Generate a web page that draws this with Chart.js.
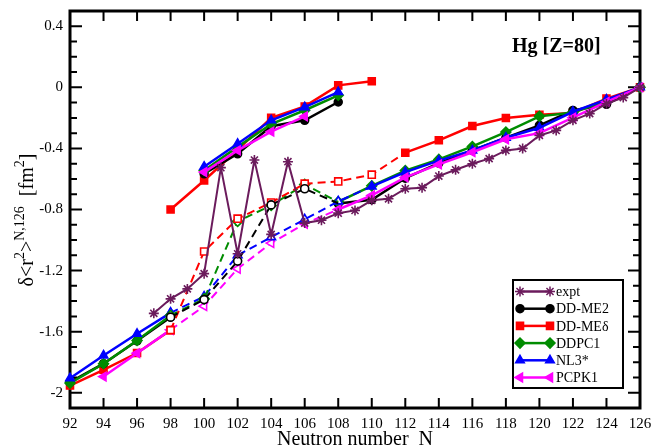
<!DOCTYPE html>
<html>
<head>
<meta charset="utf-8">
<script src="https://cdn.jsdelivr.net/npm/chart.js@4.4.1/dist/chart.umd.min.js"></script>
<style>
  html, body { margin: 0; padding: 0; background: #fff; }
  canvas { display: block; }
</style>
</head>
<body>
<canvas id="chart" width="652" height="447"></canvas>
<script>
// even neutron numbers used by all model calculations
const evenN = [92, 94, 96, 98, 100, 102, 104, 106, 108, 110, 112, 114, 116, 118, 120, 122, 124, 126]
const xTicks = evenN
const yTicks = [-2, -1.6, -1.2, -0.8, -0.4, 0, 0.4]

// experiment
const exptN = [97, 98, 99, 100, 101, 102, 103, 104, 105, 106, 107, 108, 109, 110, 111,
  112, 113, 114, 115, 116, 117, 118, 119, 120, 121, 122, 123, 124, 125, 126]
const exptVals = [-1.48, -1.385, -1.32, -1.22, -0.526, -1.09, -0.476, -0.963, -0.487, -0.889, -0.87, -0.824, -0.806, -0.74, -0.73,
  -0.664, -0.657, -0.581, -0.54, -0.5, -0.467, -0.413, -0.4, -0.315, -0.282, -0.216, -0.172, -0.107, -0.067, 0]

// DD-ME2: ground state (solid), other minimum (dashed), upper branch
const me2Main = [-1.93, -1.81, -1.66, -1.505, null, null, null, null, -0.76, -0.736, -0.595, -0.496, -0.413, -0.33, -0.249, -0.151, -0.111, 0]
const me2Alt = [null, null, null, -1.505, -1.39, -1.138, -0.77, -0.664, -0.76, null, null, null, null, null, null, null, null, null]
const me2Up = [null, null, null, null, -0.566, -0.435, -0.255, -0.216, -0.096, null, null, null, null, null, null, null, null, null]

// DD-MEdelta
const medMain = [-1.953, -1.85, -1.74, -1.59, null, null, null, null, null, null, -0.428, -0.347, -0.253, -0.201, -0.179, -0.168, -0.074, 0]
const medAlt = [null, null, null, -1.59, -1.075, -0.86, -0.754, -0.631, -0.616, -0.572, -0.428, null, null, null, null, null, null, null]
const medUp = [null, null, null, -0.8, -0.61, -0.41, -0.199, -0.125, 0.013, 0.04, null, null, null, null, null, null, null, null]

// DDPC1
const pc1Main = [-1.937, -1.81, -1.658, -1.494, null, null, null, null, -0.75, -0.645, -0.545, -0.472, -0.387, -0.293, -0.19, -0.165, -0.09, 0]
const pc1Alt = [null, null, null, -1.494, -1.385, -0.878, -0.773, -0.636, -0.75, null, null, null, null, null, null, null, null, null]
const pc1Up = [null, null, null, null, -0.545, -0.39, -0.24, -0.15, -0.052, null, null, null, null, null, null, null, null, null]

// NL3*
const nl3Main = [-1.905, -1.756, -1.614, -1.477, null, null, null, null, null, -0.649, -0.555, -0.48, -0.413, -0.33, -0.265, -0.16, -0.08, 0]
const nl3Alt = [null, null, null, -1.477, -1.37, -1.1, -0.981, -0.865, -0.747, -0.649, null, null, null, null, null, null, null, null]
const nl3Up = [null, null, null, null, -0.52, -0.37, -0.216, -0.13, -0.031, null, null, null, null, null, null, null, null, null]

// PCPK1
const pcpMain = [null, -1.894, -1.741, -1.588, null, null, null, null, -0.8, -0.708, -0.59, -0.505, -0.425, -0.34, -0.3, -0.199, -0.095, 0]
const pcpAlt = [null, null, null, -1.588, -1.433, -1.188, -1.02, -0.893, -0.8, null, null, null, null, null, null, null, null, null]
const pcpUp = [null, null, null, null, -0.555, -0.413, -0.29, -0.19, null, null, null, null, null, null, null, null, null, null]

const serif = "'Liberation Serif', 'DejaVu Serif', serif"

const models = [
  { label: "DD-ME2", color: "#000000", style: "circle", rot: 0, r: 4, main: me2Main, alt: me2Alt, up: me2Up, order: 9 },
  { label: "DD-MEδ", color: "#ff0000", style: "rect", rot: 0, r: 5, main: medMain, alt: medAlt, up: medUp, order: 10 },
  { label: "DDPC1", color: "#008c00", style: "rectRot", rot: 0, r: 5, main: pc1Main, alt: pc1Alt, up: pc1Up, order: 8 },
  { label: "NL3*", color: "#0000ff", style: "triangle", rot: 0, r: 5, main: nl3Main, alt: nl3Alt, up: nl3Up, order: 7 },
  { label: "PCPK1", color: "#ff00ff", style: "triangle", rot: -90, r: 5, main: pcpMain, alt: pcpAlt, up: pcpUp, order: 6 }
]
const expt = { label: "expt", color: "#6b1b5c", style: "star", rot: 0, r: 5 }

const pts = (xs, ys) => xs.map((x, i) => ({ x, y: ys[i] }))
const contiguous = (xs, ys) => pts(xs, ys).filter(p => p.y !== null)

const datasets = [{
  label: expt.label,
  data: pts(exptN, exptVals),
  borderColor: expt.color,
  borderWidth: 2,
  pointStyle: "star",
  pointRadius: 5,
  pointBorderWidth: 1.6,
  pointBorderColor: expt.color,
  order: 0,
  clip: false
}]

models.forEach((m, k) => {
  const base = {
    borderColor: m.color,
    pointStyle: m.style,
    pointRotation: m.rot,
    pointBorderColor: m.color,
    clip: false
  }
  datasets.push({
    ...base,
    label: m.label,
    data: pts(evenN, m.main),
    borderWidth: 2.5,
    pointRadius: m.r,
    pointBackgroundColor: m.color,
    pointBorderWidth: 1.5,
    order: m.order
  })
  datasets.push({
    ...base,
    label: m.label + " up",
    data: contiguous(evenN, m.up),
    borderWidth: 2.5,
    pointRadius: m.r,
    pointBackgroundColor: m.color,
    pointBorderWidth: 1.5,
    order: m.order
  })
  // open markers on the dashed branch, the last point is the filled one of the main branch
  datasets.push({
    ...base,
    label: m.label + " alt",
    data: contiguous(evenN, m.alt),
    borderWidth: 2,
    borderDash: [8, 5],
    pointRadius: c => c.dataIndex === c.dataset.data.length - 1 ? 0 : m.r,
    pointBackgroundColor: "#ffffff",
    pointBorderWidth: 1.6,
    order: 1 + k
  })
})

const framePlugin = {
  id: "frame",
  beforeDatasetsDraw(chart) {
    const { ctx, chartArea: a, scales: { x, y } } = chart
    ctx.save()
    ctx.strokeStyle = "#000"
    ctx.lineWidth = 2
    ctx.beginPath()
    xTicks.forEach(v => {
      const px = x.getPixelForValue(v)
      ctx.moveTo(px, a.bottom); ctx.lineTo(px, a.bottom - 10)
      ctx.moveTo(px, a.top); ctx.lineTo(px, a.top + 10)
    })
    for (let i = -20; i <= 5; i++) {
      const py = y.getPixelForValue(i / 10)
      const len = i % 4 === 0 ? 12 : 7
      ctx.moveTo(a.left, py); ctx.lineTo(a.left + len, py)
      ctx.moveTo(a.right, py); ctx.lineTo(a.right - len, py)
    }
    ctx.stroke()
    ctx.lineWidth = 3
    ctx.strokeRect(a.left, a.top, a.right - a.left, a.bottom - a.top)
    ctx.restore()
  }
}

const textPlugin = {
  id: "texts",
  afterDraw(chart) {
    const ctx = chart.ctx
    ctx.save()
    // nucleus label
    ctx.fillStyle = "#000"
    ctx.font = "bold 20px " + serif
    ctx.textAlign = "left"
    ctx.textBaseline = "alphabetic"
    ctx.fillText("Hg [Z=80]", 512, 52)

    // y axis title with superscripts
    const parts = [
      ["δ<r", false], ["2", true], [">", false], ["N,126", true], ["  [fm", false], ["2", true], ["]", false]
    ]
    const mainFont = "20px " + serif
    const supFont = "14px " + serif
    let total = 0
    parts.forEach(([t, sup]) => { ctx.font = sup ? supFont : mainFont; total += ctx.measureText(t).width })
    ctx.translate(33, 220)
    ctx.rotate(-Math.PI / 2)
    let cx = -total / 2
    parts.forEach(([t, sup]) => {
      ctx.font = sup ? supFont : mainFont
      ctx.fillText(t, cx, sup ? -9 : 0)
      cx += ctx.measureText(t).width
    })
    ctx.restore()

    // legend box
    const lx = 513, ly = 280, lw = 110, lh = 108
    ctx.save()
    ctx.fillStyle = "#fff"
    ctx.fillRect(lx, ly, lw, lh)
    ctx.strokeStyle = "#000"
    ctx.lineWidth = 2
    ctx.strokeRect(lx, ly, lw, lh)
    const rows = [expt, ...models]
    rows.forEach((s, i) => {
      const ry = 291.5 + i * 17.2
      ctx.strokeStyle = s.color
      ctx.fillStyle = s.color
      ctx.lineWidth = 2.5
      ctx.setLineDash([])
      ctx.beginPath()
      ctx.moveTo(520, ry); ctx.lineTo(550, ry)
      ctx.stroke()
      const opts = { pointStyle: s.style, rotation: s.rot, radius: s.r, borderWidth: 1.5 }
      ctx.lineWidth = 1.5
      Chart.helpers.drawPoint(ctx, opts, 520, ry)
      Chart.helpers.drawPoint(ctx, opts, 550, ry)
      ctx.fillStyle = "#000"
      ctx.font = "14px " + serif
      ctx.textAlign = "left"
      ctx.textBaseline = "middle"
      ctx.fillText(s.label, 556, ry + 1)
    })
    ctx.restore()
  }
}

new Chart(document.getElementById("chart"), {
  type: "line",
  data: { datasets },
  options: {
    responsive: false,
    animation: false,
    devicePixelRatio: 1,
    layout: { padding: { top: 11, right: 12, left: 0, bottom: 0 } },
    plugins: { legend: { display: false }, tooltip: { enabled: false } },
    scales: {
      x: {
        type: "linear",
        min: 92,
        max: 126,
        afterBuildTicks: s => { s.ticks = xTicks.map(v => ({ value: v })) },
        afterFit: s => { s.height = 39; s.paddingLeft = 0; s.paddingRight = 0 },
        grid: { display: false, drawTicks: false },
        border: { display: false },
        ticks: { color: "#000", font: { family: serif, size: 15 }, padding: 7, maxRotation: 0, autoSkip: false },
        title: { display: true, text: "Neutron number  N", color: "#000", font: { family: serif, size: 20, lineHeight: 0.75 }, padding: { top: 0, bottom: 0 } }
      },
      y: {
        type: "linear",
        min: -2.1,
        max: 0.5,
        afterBuildTicks: s => { s.ticks = yTicks.map(v => ({ value: v })) },
        afterFit: s => { s.width = 70; s.paddingTop = 0; s.paddingBottom = 0 },
        grid: { display: false, drawTicks: false },
        border: { display: false },
        ticks: { color: "#000", font: { family: serif, size: 15 }, padding: 7, callback: v => String(+v.toFixed(1)) }
      }
    }
  },
  plugins: [framePlugin, textPlugin]
})
</script>
</body>
</html>
